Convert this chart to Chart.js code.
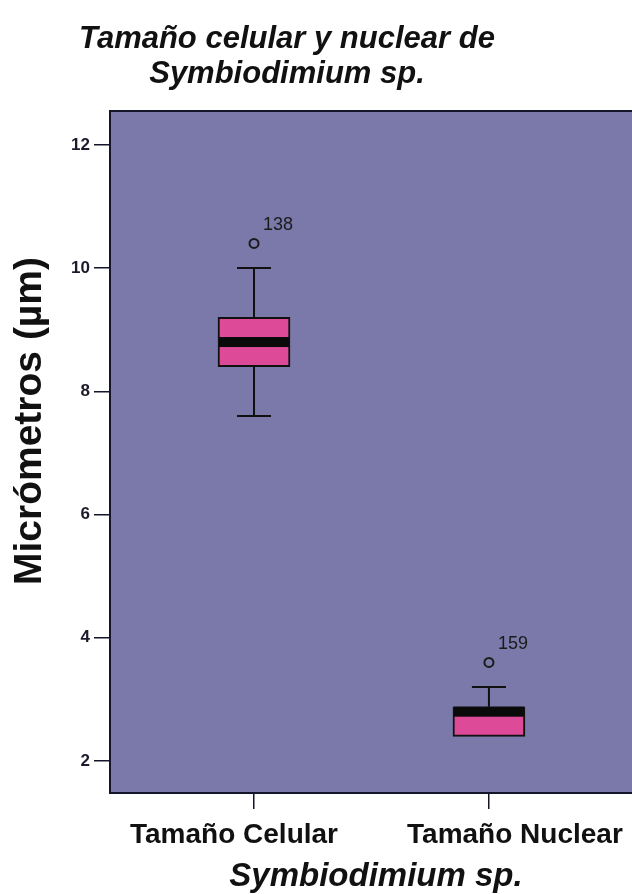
<!DOCTYPE html>
<html>
<head>
<meta charset="utf-8">
<script src="https://cdn.jsdelivr.net/npm/chart.js@4"></script>
<style>
  html, body { margin: 0; background: #ffffff; overflow: hidden; }
  #wrap { width: 632px; height: 894px; position: relative; }
</style>
</head>
<body>
<div id="wrap"><canvas id="grafico"></canvas></div>
<script>
// datos
const categorias = ["Tamaño Celular", "Tamaño Nuclear"];
const posiciones = [1, 2];
const minimos = [7.6, 2.4];
const cuartil1 = [8.4, 2.4];
const medianas = [8.8, 2.8];
const cuartil3 = [9.2, 2.88];
const maximos = [10.0, 3.2];
const atipicos = [10.4, 3.6];
const casosAtipicos = ["138", "159"];
const ticksY = [2, 4, 6, 8, 10, 12];

const titulo = ["Tamaño celular y nuclear de", "Symbiodimium sp."];
const tituloX = "Symbiodimium sp.";
const tituloY = "Micrómetros (µm)";
const fuente = "'Liberation Sans', Arial, sans-serif";
const morado = "#7b79a9";
const rosa = "#dc4a98";
const oscuro = "#14142a";
// en el original las etiquetas no quedan centradas bajo su marca
const desplazaEtiqueta = [-20, 26];

// fondo del area, borde superior, textos
const fondo = {
    id: "fondo",
    beforeDraw(chart){
        const {ctx, chartArea} = chart;
        ctx.save();
        ctx.fillStyle = morado;
        ctx.fillRect(chartArea.left, chartArea.top, chartArea.right - chartArea.left, chartArea.bottom - chartArea.top);
        ctx.restore();
    },
    afterDraw(chart){
        const {ctx, chartArea} = chart;
        const x = chart.scales.x;
        ctx.save();
        ctx.strokeStyle = oscuro;
        ctx.lineWidth = 2;
        ctx.beginPath();
        ctx.moveTo(chartArea.left, chartArea.top);
        ctx.lineTo(chartArea.right, chartArea.top);
        ctx.stroke();

        ctx.fillStyle = "#111111";
        ctx.textAlign = "center";
        ctx.textBaseline = "alphabetic";
        ctx.font = "italic bold 31px " + fuente;
        ctx.fillText(titulo[0], 287, 48);
        ctx.fillText(titulo[1], 287, 83);

        ctx.font = "bold 28px " + fuente;
        posiciones.forEach((p, i) => {
            ctx.fillText(categorias[i], x.getPixelForValue(p) + desplazaEtiqueta[i], 843);
        });

        ctx.font = "italic bold 33px " + fuente;
        ctx.fillText(tituloX, 376, 886);

        ctx.translate(30, 421);
        ctx.rotate(-Math.PI / 2);
        ctx.font = "bold 39px " + fuente;
        ctx.textBaseline = "middle";
        ctx.fillText(tituloY, 0, 0);
        ctx.restore();
    }
};

// bigotes, mediana y numero de caso de los atipicos
const cajas = {
    id: "cajas",
    afterDatasetsDraw(chart){
        const {ctx} = chart;
        const x = chart.scales.x;
        const y = chart.scales.y;
        ctx.save();
        ctx.strokeStyle = "#111111";
        posiciones.forEach((p, i) => {
            const px = x.getPixelForValue(p);
            ctx.lineWidth = 2;
            ctx.beginPath();
            ctx.moveTo(px, y.getPixelForValue(cuartil3[i]));
            ctx.lineTo(px, y.getPixelForValue(maximos[i]));
            ctx.moveTo(px - 17, y.getPixelForValue(maximos[i]));
            ctx.lineTo(px + 17, y.getPixelForValue(maximos[i]));
            if (minimos[i] < cuartil1[i]) {
                ctx.moveTo(px, y.getPixelForValue(cuartil1[i]));
                ctx.lineTo(px, y.getPixelForValue(minimos[i]));
                ctx.moveTo(px - 17, y.getPixelForValue(minimos[i]));
                ctx.lineTo(px + 17, y.getPixelForValue(minimos[i]));
            }
            ctx.stroke();

            ctx.fillStyle = "#0a0a0a";
            const my = y.getPixelForValue(medianas[i]);
            ctx.fillRect(px - 35, my - 5, 70, 10);

            ctx.fillStyle = "#1a1a1a";
            ctx.font = "18px " + fuente;
            ctx.textAlign = "left";
            ctx.textBaseline = "alphabetic";
            ctx.fillText(casosAtipicos[i], px + 9, y.getPixelForValue(atipicos[i]) - 13);
        });
        ctx.restore();
    }
};

new Chart(document.getElementById("grafico"), {
    type: "bar",
    data: {
        datasets: [
            {
                label: "Caja",
                data: posiciones.map((p, i) => ({x: p, y: [cuartil1[i], cuartil3[i]]})),
                backgroundColor: rosa,
                borderColor: "#111111",
                borderWidth: 2,
                borderSkipped: false,
                barThickness: 72
            },
            {
                type: "scatter",
                label: "Atipicos",
                data: posiciones.map((p, i) => ({x: p, y: atipicos[i]})),
                pointRadius: 4.5,
                pointBorderWidth: 2,
                pointBorderColor: "#1a1a1a",
                pointBackgroundColor: "rgba(0,0,0,0)"
            }
        ]
    },
    options: {
        responsive: true,
        maintainAspectRatio: false,
        animation: false,
        layout: { autoPadding: false, padding: { top: 111, left: 0, right: 0, bottom: 0 } },
        plugins: {
            legend: { display: false },
            tooltip: { enabled: false },
            title: { display: false }
        },
        scales: {
            x: {
                type: "linear",
                offset: false,
                min: 0.387,
                max: 2.609,
                afterBuildTicks: s => { s.ticks = posiciones.map(v => ({value: v})); },
                afterFit: s => { s.height = 101; s.paddingLeft = 0; s.paddingRight = 0; },
                ticks: { display: false },
                grid: { offset: false, drawOnChartArea: false, tickLength: 16, color: oscuro, lineWidth: 1.5 },
                border: { display: true, color: oscuro, width: 2 },
                title: { display: false }
            },
            y: {
                min: 1.48,
                max: 12.55,
                afterBuildTicks: s => { s.ticks = ticksY.map(v => ({value: v})); },
                afterFit: s => { s.width = 110; },
                ticks: {
                    color: "#1b1b2b",
                    font: { family: fuente, size: 17, weight: "bold" },
                    padding: 4
                },
                grid: { drawOnChartArea: false, tickLength: 16, color: oscuro, lineWidth: 1.5 },
                border: { display: true, color: oscuro, width: 2 },
                title: { display: false }
            }
        }
    },
    plugins: [fondo, cajas]
});
</script>
</body>
</html>
